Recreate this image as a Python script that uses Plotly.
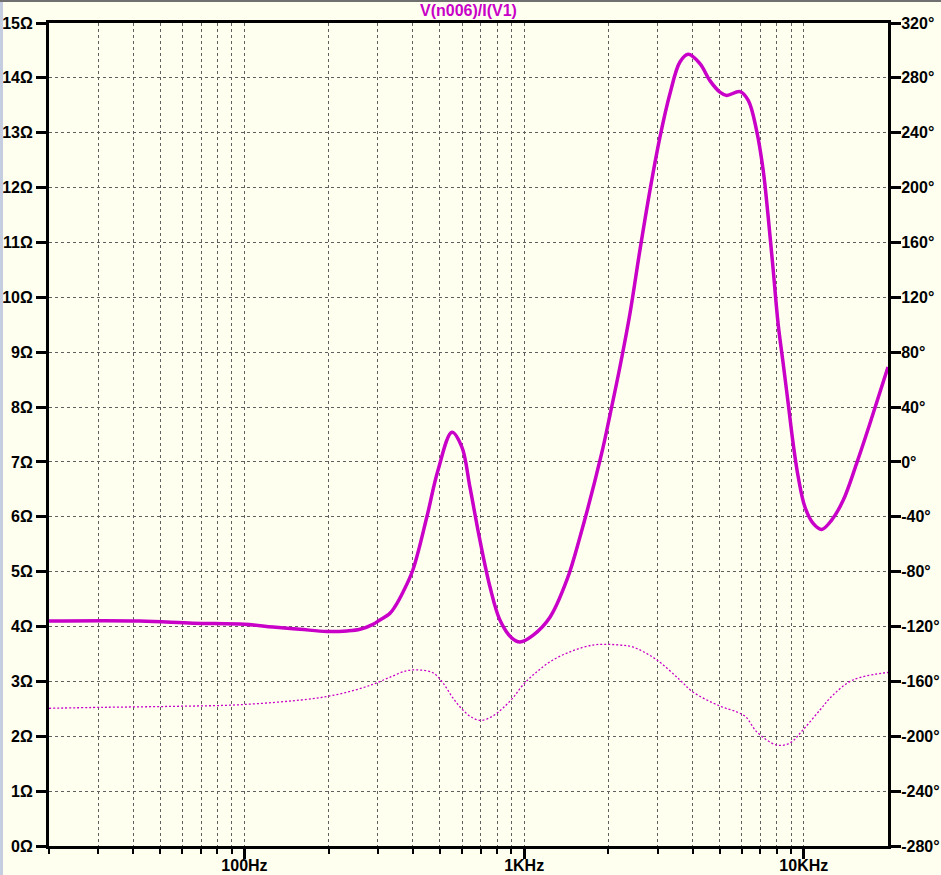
import plotly.graph_objects as go

# ---- data ----
mag_freq = [20, 42.3, 65.4, 100, 126.5, 158, 197, 232.5, 259, 288, 305, 331, 345, 369, 400,
            449, 492, 552, 599, 640, 695, 755, 819, 904, 966, 1075, 1237, 1422, 1583, 1892,
            2026, 2200, 2389, 2594, 2817, 3059, 3321, 3606, 3862, 4252, 4616, 5012, 5297,
            5909, 6329, 6779, 7159, 7460, 7775, 8100, 8440, 8796, 9162, 9548, 10090, 10800,
            11577, 12573, 13828, 15440, 17235, 20000]
mag_ohm = [4.10, 4.10, 4.06, 4.04, 3.99, 3.95, 3.91, 3.92, 3.95, 4.04, 4.12, 4.24, 4.36, 4.63, 5.03,
           6.00, 6.85, 7.54, 7.27, 6.54, 5.57, 4.72, 4.12, 3.79, 3.72, 3.84, 4.17, 4.85, 5.63, 7.15,
           7.85, 8.73, 9.70, 10.86, 11.95, 12.92, 13.71, 14.29, 14.43, 14.26, 13.95, 13.74, 13.68,
           13.75, 13.59, 13.04, 12.31, 11.46, 10.49, 9.50, 8.79, 8.06, 7.33, 6.73, 6.18, 5.88,
           5.77, 5.94, 6.30, 6.97, 7.70, 8.73]

ph_freq = [20, 31.2, 55.5, 96.4, 167, 202, 244, 288, 331, 380, 424, 472, 513, 556, 604, 656,
           705, 773, 840, 912, 990, 1111, 1267, 1495, 1762, 1977, 2200, 2449, 2984, 3606, 4012,
           5012, 5766, 6200, 6797, 8013, 8919, 9925, 11417, 12706, 14978, 19180, 20000]
ph_deg = [-179.6, -178.9, -178.2, -177.0, -173.1, -170.6, -166.8, -162.1, -157.0, -152.2, -151.7,
          -153.7, -161.2, -172.0, -180.9, -186.7, -188.4, -185.2, -179.4, -172.0, -162.6, -152.9,
          -144.4, -137.6, -133.5, -133.0, -133.5, -134.9, -144.4, -159.0, -167.7, -178.0, -182.3,
          -185.8, -196.9, -206.4, -204.9, -195.4, -180.9, -170.0, -159.0, -153.9, -153.5]

x_major = [100, 1000, 10000]
x_major_text = ["100Hz", "1KHz", "10KHz"]
x_minor = [20, 30, 40, 50, 60, 70, 80, 90, 200, 300, 400, 500, 600, 700, 800, 900,
           2000, 3000, 4000, 5000, 6000, 7000, 8000, 9000]
y_ticks = list(range(0, 16))
y_text = [f"{v}Ω" for v in y_ticks]
y2_ticks = list(range(-280, 321, 40))
y2_text = [f"{v}°" for v in y2_ticks]

title_text = "V(n006)/I(V1)"

BG = "#FFFFF0"
TRACE = "#C800C8"
GRID = "#606060"
FONT = "Liberation Sans, Arial, sans-serif"

ML, MR, MT, MB = 49, 53, 23, 29
PW, PH = 941 - ML - MR, 875 - MT - MB

fig = go.Figure()
fig.add_trace(go.Scatter(x=mag_freq, y=mag_ohm, mode="lines",
                         line=dict(color=TRACE, width=3.5, shape="spline", smoothing=1.0),
                         showlegend=False, yaxis="y"))
fig.add_trace(go.Scatter(x=ph_freq, y=ph_deg, mode="lines",
                         line=dict(color=TRACE, width=1.3, dash="2px,2px", shape="spline", smoothing=1.0),
                         showlegend=False, yaxis="y2"))

tickfont = dict(family=FONT, size=16, color="black", weight="bold")

fig.update_layout(
    width=941, height=875,
    margin=dict(l=ML, r=MR, t=MT, b=MB, autoexpand=False),
    paper_bgcolor=BG, plot_bgcolor=BG,
    font=dict(family=FONT, size=16, color="black"),
    title=dict(text=f"<b>{title_text}</b>", x=0.5, xref="paper", xanchor="center",
               y=1 - 10.5 / 875, yanchor="middle", yref="container", automargin=False,
               font=dict(family=FONT, size=16, color=TRACE)),
    xaxis=dict(type="log", range=[1.30103, 4.30103], automargin=False,
               tickmode="array", tickvals=x_major, ticktext=x_major_text,
               ticks="outside", ticklen=10, tickwidth=3, tickcolor="black",
               tickfont=tickfont, ticklabelstandoff=-7,
               showgrid=True, gridcolor=GRID, gridwidth=1, griddash="3px,3px",
               showline=True, linecolor="black", linewidth=3, mirror=True,
               zeroline=False,
               minor=dict(tickmode="array", tickvals=x_minor, ticks="outside", ticklen=5,
                          tickwidth=2, tickcolor="black", showgrid=True, gridcolor=GRID,
                          gridwidth=1, griddash="3px,3px")),
    yaxis=dict(range=[0, 15], automargin=False, tickmode="array", tickvals=y_ticks, ticktext=y_text,
               ticks="outside", ticklen=10, tickwidth=3, tickcolor="black",
               tickfont=tickfont,
               showgrid=True, gridcolor=GRID, gridwidth=1, griddash="3px,3px",
               showline=True, linecolor="black", linewidth=3, zeroline=False),
    yaxis2=dict(range=[-280, 320], automargin=False, overlaying="y", side="right",
                tickmode="array", tickvals=y2_ticks, ticktext=y2_text,
                ticks="outside", ticklen=10, tickwidth=3, tickcolor="black",
                tickfont=tickfont, ticklabelstandoff=-3,
                showgrid=False, showline=True, linecolor="black", linewidth=3, zeroline=False),
    shapes=[
        dict(type="rect", xref="paper", yref="paper", x0=-ML / PW, x1=(3 - ML) / PW,
             y0=-MB / PH, y1=1 + MT / PH,
             fillcolor="#C4CEE0", line=dict(width=0), layer="above"),
        dict(type="rect", xref="paper", yref="paper", x0=-ML / PW, x1=1 + MR / PW,
             y0=1 + (MT - 2) / PH, y1=1 + MT / PH,
             fillcolor="#707070", line=dict(width=0), layer="above"),
    ],
)

fig.write_html(
    "out.html",
    config={"displayModeBar": False},
    post_script="document.body.style.margin='0';document.body.style.padding='0';"
                "document.body.style.overflow='hidden';document.body.style.background='" + BG + "';",
)
